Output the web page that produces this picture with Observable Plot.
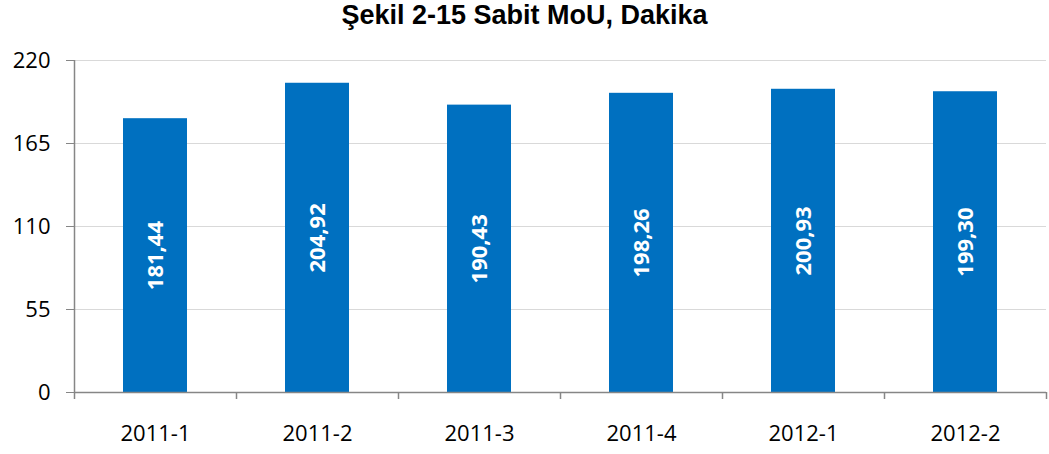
<!DOCTYPE html>
<html>
<head>
<meta charset="utf-8">
<script src="https://cdn.jsdelivr.net/npm/d3@7"></script>
<script src="https://cdn.jsdelivr.net/npm/@observablehq/plot@0.6"></script>
<style>
  body { margin: 0; background: #fff; }
  #title { height: 34px; line-height: 31px; text-align: center; font-family: "Liberation Sans", Arial, sans-serif; font-weight: bold; font-size: 27px; color: #000; overflow: hidden; }
  svg { display: block; }
</style>
</head>
<body>
<div id="title">Şekil 2-15 Sabit MoU, Dakika</div>
<div id="chart"></div>
<script>
const categories = ["2011-1", "2011-2", "2011-3", "2011-4", "2012-1", "2012-2"];
const values = [181.44, 204.92, 190.43, 198.26, 200.93, 199.30];
const yTicks = [0, 55, 110, 165, 220];

const data = categories.map((c, i) => ({cat: c, value: values[i]}));
const fmt = v => v.toFixed(2).replace(".", ",");

const W = 1049, mL = 74, mR = 3;
const half = (W - mL - mR) / categories.length / 2;
const axisColor = "#868686";

const chart = Plot.plot({
  width: W,
  height: 420,
  marginTop: 26,
  marginBottom: 62,
  marginLeft: mL,
  marginRight: mR,
  style: {fontFamily: "'Open Sans', sans-serif", fontSize: "21px", color: "#000", background: "#fff"},
  x: {domain: categories, padding: 0, label: null},
  y: {domain: [0, 220], label: null},
  marks: [
    Plot.ruleY(yTicks.filter(t => t > 0), {stroke: "#d9d9d9", strokeWidth: 1.2}),
    Plot.barY(data, {x: "cat", y: "value", fill: "#0070C0", insetLeft: 49, insetRight: 49}),
    Plot.text(data, {
      x: "cat", y: d => d.value / 2, text: d => fmt(d.value), rotate: -90,
      fill: "white", fontWeight: "bold", fontSize: 22, fontFamily: "'Open Sans', sans-serif"
    }),
    Plot.ruleY([0], {stroke: axisColor, strokeWidth: 1.5}),
    Plot.ruleX([categories[0]], {dx: -half, stroke: axisColor, strokeWidth: 1.5}),
    Plot.axisY({ticks: yTicks, tickSize: 8, tickPadding: 16, stroke: axisColor, tickFormat: d => d, fill: "#000", fontSize: 22}),
    Plot.axisX({tickSize: 0, tickPadding: 33, fontSize: 22, fill: "#000"}),
    Plot.axisX(categories, {tickSize: 7, text: null, dx: -half, stroke: axisColor, strokeWidth: 1.5}),
    Plot.axisX([categories[categories.length - 1]], {tickSize: 7, text: null, dx: half, stroke: axisColor, strokeWidth: 1.5})
  ]
});
document.getElementById("chart").appendChild(chart);
</script>
</body>
</html>
